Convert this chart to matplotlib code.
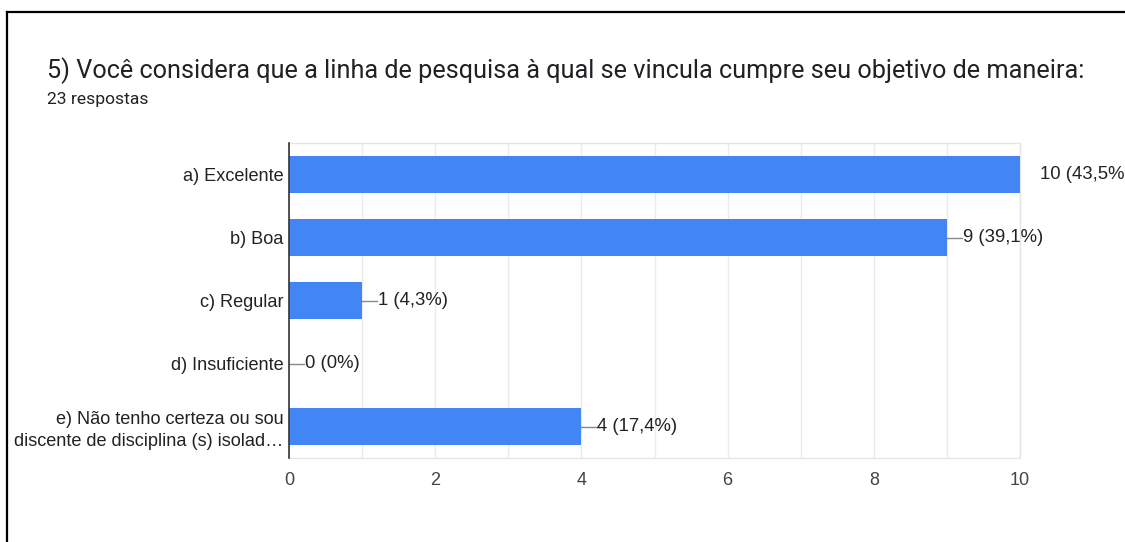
import numpy as np
import matplotlib
matplotlib.use('Agg')
import matplotlib.pyplot as plt
from matplotlib.lines import Line2D

title = '5) Você considera que a linha de pesquisa à qual se vincula cumpre seu objetivo de maneira:'
subtitle = '23 respostas'
categories = ['a) Excelente', 'b) Boa', 'c) Regular', 'd) Insuficiente',
              'e) Não tenho certeza ou sou\ndiscente de disciplina (s) isolad…']
counts = [10, 9, 1, 0, 4]
total = 23
xticks = [0, 2, 4, 6, 8, 10]

W, H = 1125, 542
fig = plt.figure(figsize=(W / 100, H / 100), dpi=100)
fig.patch.set_facecolor('white')

# frame of the screenshot (top and left edge)
fig.add_artist(Line2D([7 / W, 1], [1 - 12 / H, 1 - 12 / H], color='black', lw=1.6))
fig.add_artist(Line2D([7 / W, 7 / W], [0, 1 - 12 / H], color='black', lw=1.6))

fig.text(47 / W, 1 - 71 / H, title, fontsize=18.2, family='Roboto',
         color='#202124', va='center', ha='left')
fig.text(47 / W, 1 - 100 / H, subtitle, fontsize=12.6, family='Roboto',
         color='#202124', va='center', ha='left')

ax = fig.add_axes([289 / W, 1 - 458 / H, (1020 - 289) / W, (458 - 143) / H])
y = np.arange(len(categories))
ax.barh(y, counts, height=0.6, color='#4285f4', zorder=3)
ax.set_xlim(0, 10)
ax.set_ylim(len(categories) - 0.5, -0.5)
ax.set_yticks(y)
ax.set_yticklabels(categories, family='Liberation Sans', fontsize=13.1,
                   color='#222222', linespacing=1.35)
ax.set_xticks(xticks)
ax.set_xticklabels([str(t) for t in xticks], family='Liberation Sans', fontsize=13,
                   color='#444444')
ax.set_xticks(np.arange(0, 11), minor=True)
ax.tick_params(axis='both', length=0, pad=4, which='both')
ax.tick_params(axis='x', pad=10)
ax.grid(axis='x', which='both', color='#ebebeb', lw=1, zorder=0)
for s in ['top', 'right', 'bottom']:
    ax.spines[s].set_color('#e6e6e6')
    ax.spines[s].set_linewidth(1)
ax.spines['left'].set_color('#333333')
ax.spines['left'].set_linewidth(1.2)
ax.spines['left'].set_zorder(4)

for yi, c in zip(y, counts):
    pct = c / total * 100
    pct_txt = ('%.1f' % pct).replace('.', ',') if c else '0'
    label = '%d (%s%%)' % (c, pct_txt)
    ax.plot([c, c + 0.21], [yi, yi], color='#8a8a8a', lw=1, zorder=2, clip_on=True)
    off = 20 if c >= 10 else 16
    ax.annotate(label, (c, yi), xytext=(off, 0), textcoords='offset pixels',
                va='center', ha='left', fontsize=13.3, family='Liberation Sans',
                color='#222222', annotation_clip=False)

fig.savefig('out.png', dpi=100)
